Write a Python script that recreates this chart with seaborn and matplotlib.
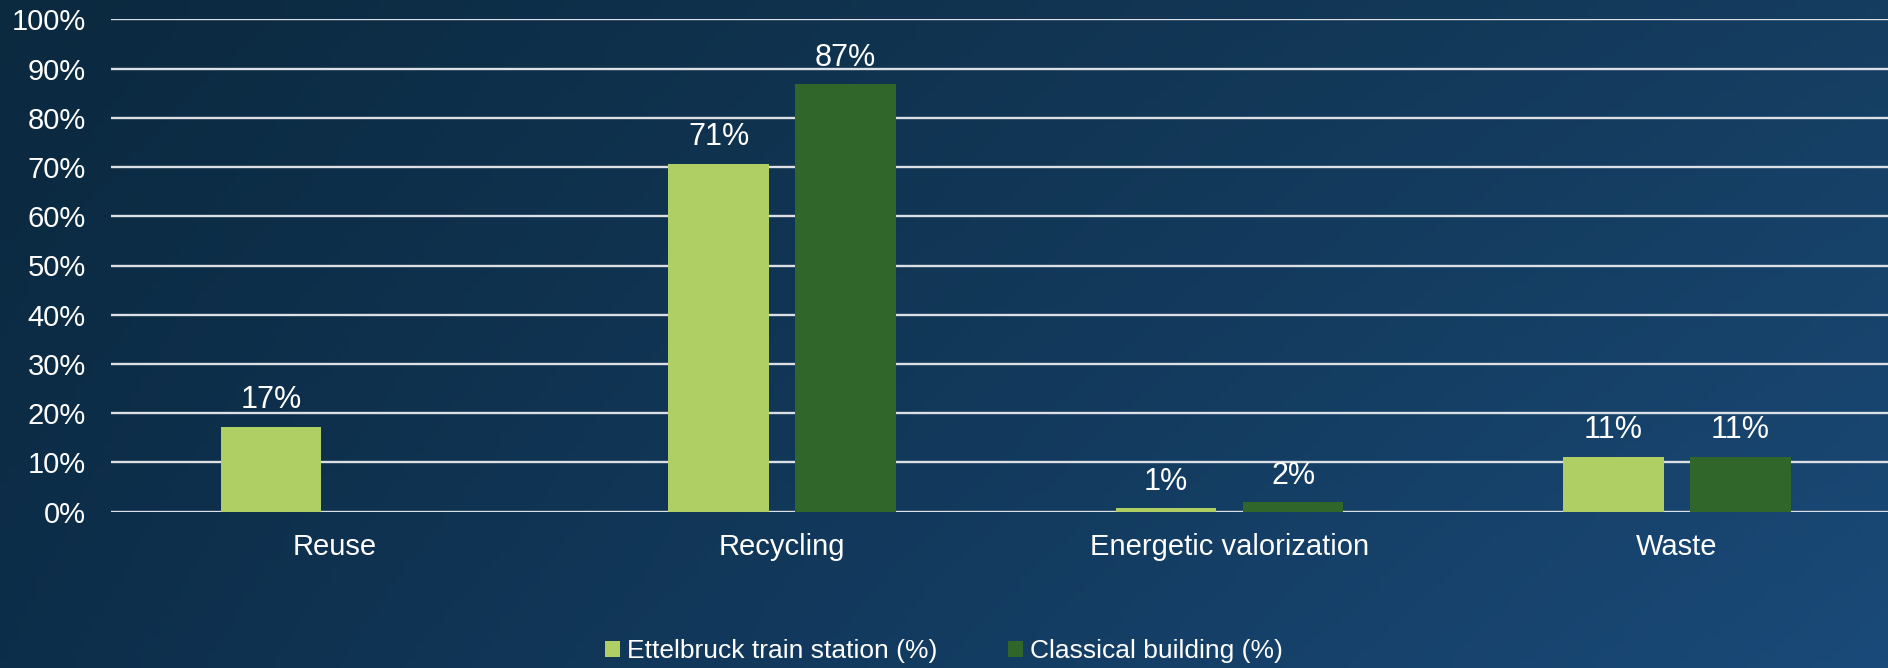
import numpy as np
import pandas as pd
import matplotlib
matplotlib.use("Agg")
import matplotlib.pyplot as plt
import seaborn as sns
from matplotlib.colors import to_rgb

# data
categories = ["Reuse", "Recycling", "Energetic valorization", "Waste"]
ettelbruck = [17.3, 70.7, 0.8, 11.2]
classical = [np.nan, 86.8, 1.9, 11.2]
series_names = ["Ettelbruck train station (%)", "Classical building (%)"]
colors = ["#AFCE64", "#31662A"]
y_ticks = list(range(0, 101, 10))

df = pd.DataFrame({
    "category": categories * 2,
    "value": ettelbruck + classical,
    "series": [series_names[0]] * 4 + [series_names[1]] * 4,
})

sns.set_theme(style="white")
plt.rcParams["font.family"] = ["Liberation Sans", "DejaVu Sans"]
plt.rcParams["text.color"] = "white"

W, H, DPI = 1888, 668, 100
fig = plt.figure(figsize=(W / DPI, H / DPI), dpi=DPI)

# dark blue gradient background
bg = fig.add_axes([0, 0, 1, 1], zorder=-1)
tl, tr = np.array(to_rgb("#0B293F")), np.array(to_rgb("#153D60"))
bl, br = np.array(to_rgb("#0D2E4A")), np.array(to_rgb("#1A4A79"))
xx = np.linspace(0, 1, 200)[None, :, None]
yy = np.linspace(0, 1, 80)[:, None, None]
img = (1 - yy) * ((1 - xx) * tl + xx * tr) + yy * ((1 - xx) * bl + xx * br)
bg.imshow(img, aspect="auto", extent=[0, 1, 0, 1])
bg.axis("off")

ax = fig.add_axes([111 / W, (H - 511.7) / H, (1900.7 - 111) / W, (511.7 - 19.3) / H])
ax.set_facecolor("none")

sns.barplot(data=df, x="category", y="value", hue="series", order=categories,
            hue_order=series_names, palette=colors, width=0.568, gap=0.21,
            saturation=1, linewidth=0, edgecolor="none", ax=ax, legend=True)

for cont in ax.containers:
    ax.bar_label(cont, fmt=lambda v: f"{v:.0f}%", padding=8, fontsize=22, color="white")

ax.set_ylim(0, 100)
ax.set_xlim(-0.5, 3.5)
ax.set_yticks(y_ticks)
ax.set_yticklabels([f"{t}%" for t in y_ticks])
ax.yaxis.grid(True, color="#DCDFE4", linewidth=1.7)
ax.set_axisbelow(True)
ax.tick_params(axis="y", length=0, pad=18, labelsize=21, labelcolor="white")
ax.tick_params(axis="x", length=0, pad=15, labelsize=21, labelcolor="white")
ax.set_xlabel("")
ax.set_ylabel("")
for s in ax.spines.values():
    s.set_visible(False)

handles, labels = ax.get_legend_handles_labels()
ax.get_legend().remove()
leg = fig.legend(handles, labels, loc="center", bbox_to_anchor=(0.5, 17 / H), ncol=2,
                 frameon=False, fontsize=19, handlelength=0.56, handleheight=0.56,
                 handletextpad=0.25, columnspacing=2.7, labelcolor="white")

fig.savefig("out.png", dpi=DPI)
